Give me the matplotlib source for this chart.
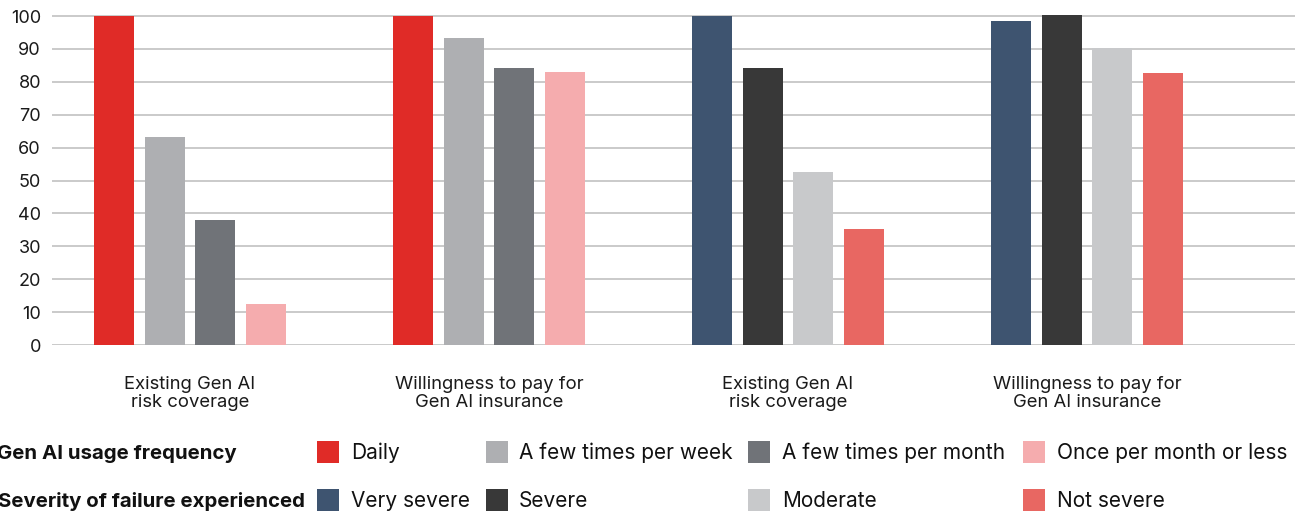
import matplotlib
matplotlib.use("Agg")
import matplotlib.pyplot as plt
from matplotlib.patches import Rectangle
import numpy as np

plt.rcParams['font.family'] = ['Inter', 'DejaVu Sans']

# Chart data
categories = [
    "Existing Gen AI\nrisk coverage",
    "Willingness to pay for\nGen AI insurance",
    "Existing Gen AI\nrisk coverage",
    "Willingness to pay for\nGen AI insurance",
]

usage_labels = ["Daily", "A few times per week", "A few times per month", "Once per month or less"]
severity_labels = ["Very severe", "Severe", "Moderate", "Not severe"]

# Groups 1-2: by usage frequency; groups 3-4: by severity of failure
usage_coverage = [100, 63.2, 38.0, 12.5]
usage_willingness = [100, 93.3, 84.2, 83.0]
severity_coverage = [100, 84.2, 52.6, 35.3]
severity_willingness = [98.5, 100.3, 90.2, 82.7]

usage_colors = ["#E02B27", "#AEAFB2", "#707378", "#F5ACAE"]
severity_colors = ["#3E5470", "#383838", "#C8C9CB", "#E86762"]

W, H = 1297, 513
fig = plt.figure(figsize=(W / 100, H / 100), dpi=100)

def fx(px):
    return px / W

def fy(py):
    return 1 - py / H

ymax = 102
ax_left, ax_right, ax_bottom_px = 52, 1295, 345
unit_px = 329 / 100.0
ax_top_px = ax_bottom_px - ymax * unit_px
ax = fig.add_axes([fx(ax_left), fy(ax_bottom_px),
                   (ax_right - ax_left) / W, (ax_bottom_px - ax_top_px) / H])

group_x = np.arange(4)
spacing = 0.1689
bar_w = 0.1338
offsets = (np.arange(4) - 1.5) * spacing

groups = [
    (usage_coverage, usage_colors),
    (usage_willingness, usage_colors),
    (severity_coverage, severity_colors),
    (severity_willingness, severity_colors),
]
for gx, (vals, cols) in zip(group_x, groups):
    ax.bar(gx + offsets, vals, width=bar_w, color=cols, zorder=3, linewidth=0)

ax.set_xlim((ax_left - 190) / 299, (ax_right - 190) / 299)
ax.set_ylim(0, ymax)
ax.set_yticks(np.arange(0, 101, 10))
ax.yaxis.grid(True, color="#CACACA", linewidth=1.4, zorder=0)
ax.set_axisbelow(True)
for s in ax.spines.values():
    s.set_visible(False)
ax.tick_params(axis="y", length=0, pad=8, labelsize=13, labelcolor="#1a1a1a")
ax.set_xticks(group_x)
ax.set_xticklabels(categories, fontsize=13.3, color="#1a1a1a", linespacing=1.1)
ax.tick_params(axis="x", length=0, pad=22)

# Legend rows drawn in figure pixel coordinates
rows = [
    ("Gen AI usage frequency", 237, 452, 459.3, usage_labels, usage_colors),
    ("Severity of failure experienced", 305, 499.5, 507, severity_labels, severity_colors),
]
swatch_x = [317, 486, 748, 1023]
text_x = [351, 519, 782, 1057]
sw = 22
for title, title_right, yc, ybase, labels, cols in rows:
    fig.text(fx(title_right), fy(ybase), title, ha="right", va="baseline",
             fontsize=14.7, fontweight="bold", color="#111111")
    for sx, tx, lab, c in zip(swatch_x, text_x, labels, cols):
        fig.add_artist(Rectangle((fx(sx), fy(yc + sw / 2)), sw / W, sw / H,
                                 transform=fig.transFigure, color=c, linewidth=0))
        fig.text(fx(tx), fy(ybase), lab, ha="left", va="baseline",
                 fontsize=15, color="#111111")

fig.savefig("out.png", dpi=100)
